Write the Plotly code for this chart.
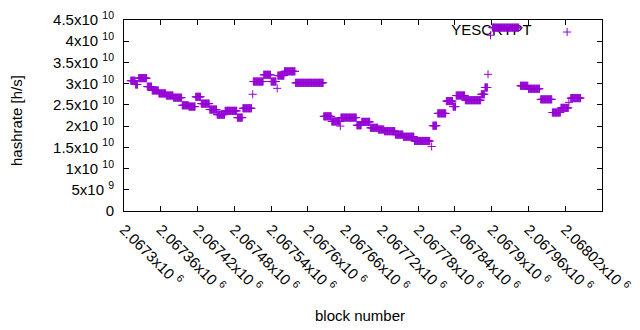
import plotly.graph_objects as go

# ---- data (plateaus of the hashrate, in 1e10 h/s) ----
seg_start = [2067311, 2067319, 2067324, 2067338, 2067346, 2067357, 2067369, 2067381,
             2067395, 2067406, 2067417, 2067426, 2067440, 2067452, 2067465, 2067485,
             2067494, 2067510, 2067511, 2067528, 2067540, 2067550, 2067551, 2067562,
             2067580, 2067626, 2067639, 2067653, 2067654, 2067680, 2067688, 2067702,
             2067715, 2067725, 2067743, 2067756, 2067774, 2067802, 2067804, 2067812,
             2067826, 2067837, 2067842, 2067857, 2067883, 2067889, 2067894, 2067898,
             2067901, 2067947, 2067960, 2067980, 2067999, 2068013, 2068026, 2068029]
seg_end = [2067318, 2067322, 2067337, 2067345, 2067356, 2067368, 2067380, 2067394,
           2067405, 2067416, 2067425, 2067439, 2067451, 2067464, 2067484, 2067493,
           2067508, 2067510, 2067527, 2067539, 2067548, 2067550, 2067561, 2067579,
           2067625, 2067638, 2067652, 2067653, 2067679, 2067687, 2067701, 2067714,
           2067724, 2067742, 2067755, 2067773, 2067799, 2067802, 2067810, 2067825,
           2067836, 2067841, 2067856, 2067882, 2067888, 2067893, 2067894, 2067898,
           2067944, 2067959, 2067978, 2067998, 2068012, 2068025, 2068026, 2068045]
seg_value = [3.07, 2.98, 3.13, 2.93, 2.84, 2.77, 2.72, 2.67,
             2.49, 2.46, 2.69, 2.53, 2.39, 2.27, 2.36, 2.20,
             2.42, 2.75, 3.05, 3.21, 3.05, 2.89, 3.19, 3.29,
             3.02, 2.23, 2.11, 2.00, 2.20, 2.02, 2.10, 1.96,
             1.92, 1.88, 1.80, 1.75, 1.65, 1.52, 2.01, 2.30,
             2.59, 2.46, 2.72, 2.61, 2.75, 2.91, 3.22, 4.14,
             4.32, 2.95, 2.88, 2.63, 2.32, 2.43, 2.56, 2.66]

x_tick_vals = [2067300, 2067360, 2067420, 2067480, 2067540, 2067600, 2067660,
               2067720, 2067780, 2067840, 2067900, 2067960, 2068020, 2068080]
x_tick_mant = ["2.0673", "2.06736", "2.06742", "2.06748", "2.06754", "2.0676", "2.06766",
               "2.06772", "2.06778", "2.06784", "2.0679", "2.06796", "2.06802", "2.06808"]
y_tick_vals = [0, 5e9, 1e10, 1.5e10, 2e10, 2.5e10, 3e10, 3.5e10, 4e10, 4.5e10]
y_tick_labels = ["0", "5x10 <sup>9</sup>", "1x10 <sup>10</sup>", "1.5x10 <sup>10</sup>",
                 "2x10 <sup>10</sup>", "2.5x10 <sup>10</sup>", "3x10 <sup>10</sup>",
                 "3.5x10 <sup>10</sup>", "4x10 <sup>10</sup>", "4.5x10 <sup>10</sup>"]
series_name = "YESCRYPT"

# ---- expand plateaus into one point per block ----
blocks, rates = [], []
for s, e, v in zip(seg_start, seg_end, seg_value):
    for b in range(s, e + 1):
        blocks.append(b)
        rates.append(v * 1e10)

PURPLE = "#9400D3"
FONT = "Liberation Sans, Arial, sans-serif"
x_range = [x_tick_vals[0], x_tick_vals[-1]]
y_range = [y_tick_vals[0], y_tick_vals[-1]]

def ax_x(f):
    return x_range[0] + f * (x_range[1] - x_range[0])

def ax_y(f):
    return y_range[0] + f * (y_range[1] - y_range[0])

fig = go.Figure()
# key text (drawn first so data lies over it, as in gnuplot)
fig.add_trace(go.Scatter(
    x=[ax_x(0.853)], y=[ax_y(0.942)], mode="text", text=[series_name],
    textposition="middle left", textfont=dict(family=FONT, size=15, color="black"),
    showlegend=False, hoverinfo="skip"))
fig.add_trace(go.Scatter(
    x=blocks, y=rates, mode="markers", name=series_name,
    marker=dict(symbol="cross-thin", size=5.8, color=PURPLE,
                line=dict(color=PURPLE, width=1)),
    showlegend=False))
# key sample
fig.add_trace(go.Scatter(
    x=[ax_x(0.927)], y=[ax_y(0.937)], mode="markers",
    marker=dict(symbol="cross-thin", size=5.8, color=PURPLE,
                line=dict(color=PURPLE, width=1)),
    showlegend=False, hoverinfo="skip"))

axis_common = dict(showgrid=False, zeroline=False, showline=True, linecolor="black",
                   linewidth=1, mirror="allticks", ticks="inside", ticklen=5,
                   tickcolor="black", tickwidth=1, automargin=False,
                   tickfont=dict(family=FONT, size=15, color="black"))

fig.update_layout(
    width=640, height=330, autosize=False,
    margin=dict(l=124, r=38, t=20, b=119),
    paper_bgcolor="white", plot_bgcolor="white",
    xaxis=dict(range=x_range, tickmode="array", tickvals=x_tick_vals,
               ticktext=[m + "x10 <sup>6</sup>" for m in x_tick_mant],
               tickangle=45, ticklabelstandoff=3, **axis_common),
    yaxis=dict(range=y_range, tickmode="array", tickvals=y_tick_vals,
               ticktext=y_tick_labels, ticklabelstandoff=6, **axis_common),
    annotations=[
        dict(text="block number", xref="paper", yref="paper", x=0.494, y=-0.545,
             xanchor="center", yanchor="middle", showarrow=False,
             font=dict(family=FONT, size=15, color="black")),
        dict(text="hashrate [h/s]", xref="paper", yref="paper", x=-0.226, y=0.476,
             xanchor="center", yanchor="middle", textangle=-90, showarrow=False,
             font=dict(family=FONT, size=15, color="black")),
    ],
)

fig.write_html("out.html", config={"displayModeBar": False},
               post_script="document.body.style.margin='0';document.body.style.overflow='hidden';")
